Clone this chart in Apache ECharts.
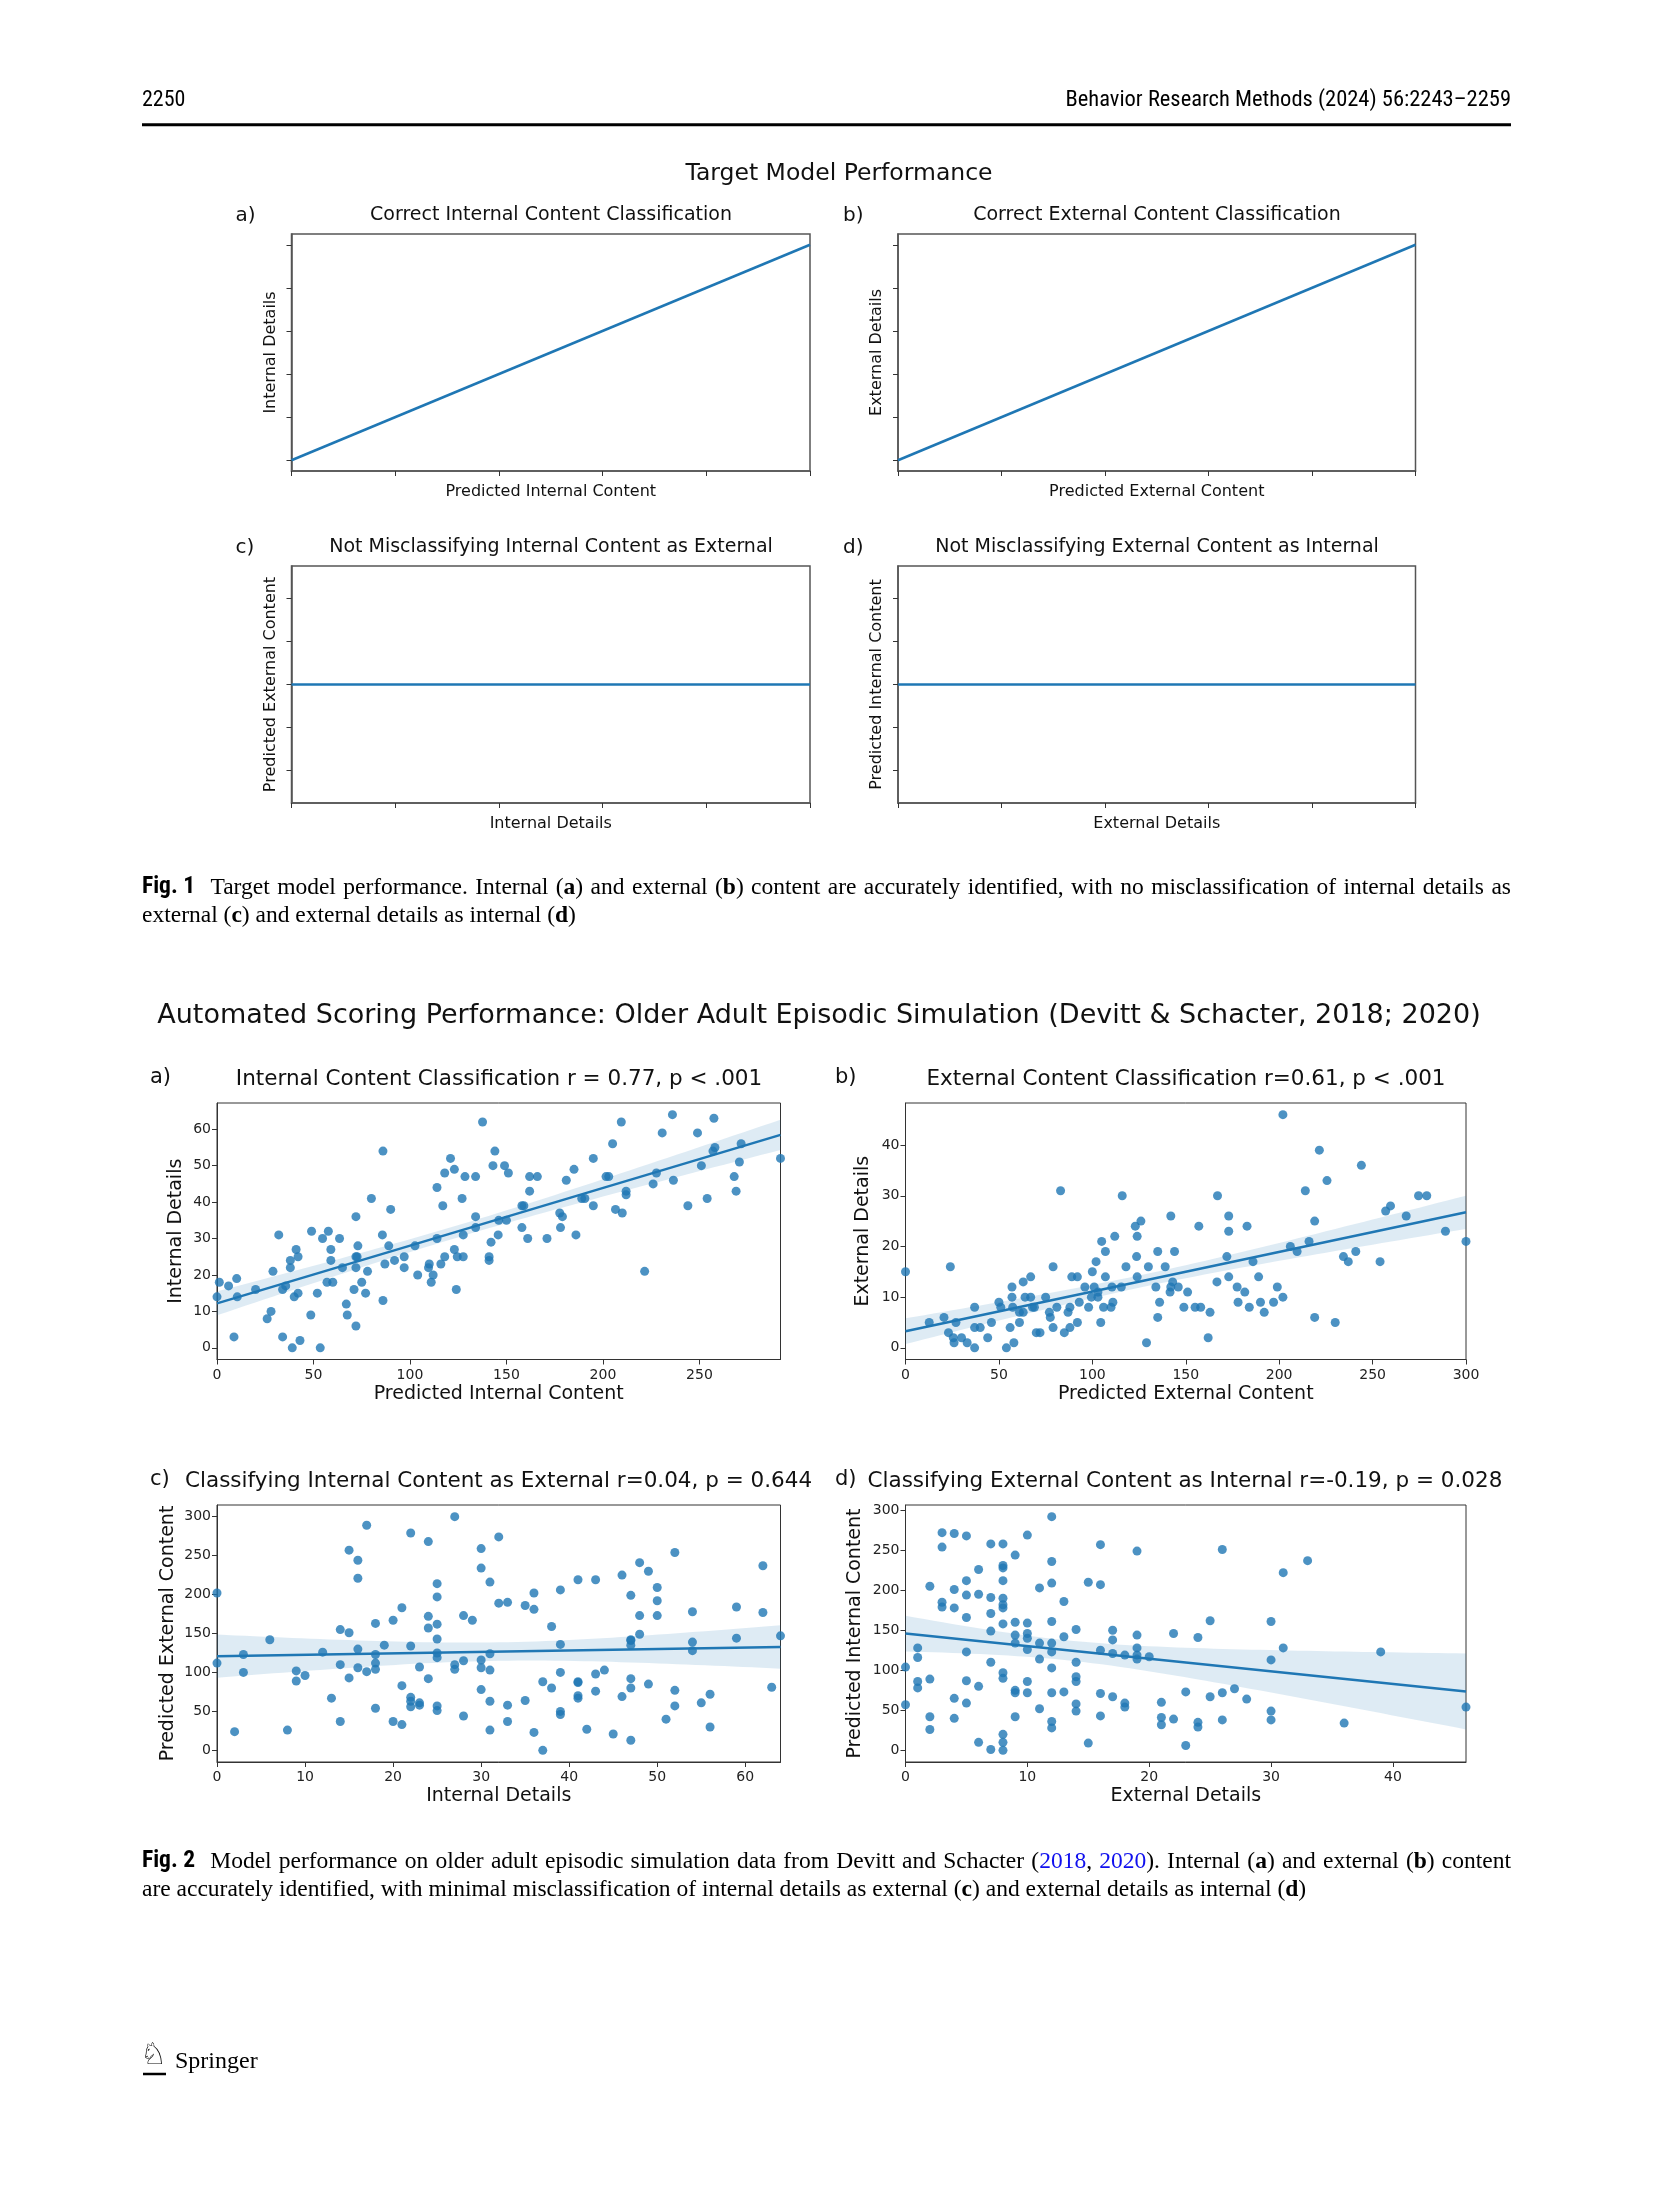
<!DOCTYPE html>
<html><head><meta charset="utf-8">
<script src="https://cdn.jsdelivr.net/npm/echarts@6/dist/echarts.min.js"></script>
<style>html,body{margin:0;padding:0;background:#fff}#c{width:1654px;height:2197px}</style>
</head><body><div id="c"></div>
<script>
// ---------------- DATA ----------------
// Fig 1 (schematic target model): x/y on unlabeled 0..5 scales
const fig1Ticks = [0, 1, 2, 3, 4, 5];
const fig1FlatTicks = [-0.04, -0.02, 0, 0.02, 0.04];
const fig1Diagonal = [[0, 0], [5, 5]];
const fig1Flat = [[0, 0], [5, 0]];

// Fig 2a: Predicted Internal Content (x) vs Internal Details (y)
const panelA = [[0,14],[1.2,18],[6,17],[8.8,3],[10.2,19],[10.5,14],[20,16],[26,8],[28,10],[29,21],[32,31],[34,16],[34,3],[35.6,17],[38,24],[38,22],[39,0],[40,14],[41,27],[42,25],[42,15],[43,2],[48.6,9],[49,32],[52,15],[53.5,0],[54.7,30],[57,18],[57.7,32],[59,27],[59,24],[60,18],[63.5,30],[65,22],[67,12],[67.5,9],[71,16],[72,36],[72,6],[72,22],[72,25],[73,28],[72.6,25],[75,18],[77,15],[78,21],[80,41],[85.7,31],[86,54],[86,13],[87,23],[89,28],[90,38],[92,24],[97,25],[97,22],[102.6,28],[104,20],[110,23],[109.6,22],[111,18],[112,20],[114,30],[114,44],[116,23],[117,39],[118,48],[118,25],[121,52],[123,49],[123,27],[124,16],[124.5,25],[127,41],[127.6,31],[127.6,25],[128.5,47],[134,47],[134,36],[134,33],[137.6,62],[141,24],[141,25],[142,29],[144,54],[143,50],[145.7,31],[146,35],[149,50],[150,35],[151,48],[158,33],[158,39],[159,39],[161,30],[162,47],[162,43],[166,47],[171,30],[177.6,37],[178,33],[179,36],[181,46],[185,49],[186,31],[189,41],[190.6,41],[195,39],[195,52],[201.6,47],[203,47],[205,56],[206.5,38],[209.5,62],[210,37],[212,43],[212,42],[221.6,21],[226,45],[227.7,48],[230.7,59],[236,64],[236.5,46],[244,39],[249,59],[251,50],[254,41],[257,54],[258,55],[257.5,63],[268,47],[269,43],[270.7,51],[271.6,56],[292,52]];
const panelAXTicks = [0, 50, 100, 150, 200, 250];
const panelAYTicks = [0, 10, 20, 30, 40, 50, 60];

// Fig 2b: Predicted External Content (x) vs External Details (y)
const panelB = [[0,15],[12.7,5],[20.6,6],[23,3],[24,16],[25.6,2],[26,1],[27,5],[30,2],[33,1],[37,8],[37,4],[37,0],[40,4],[44,2],[46,5],[50,9],[51,8],[54,0],[56,4],[57,12],[57,10],[57.4,8],[58,1],[61,5],[61,7],[63,13],[63,7],[64,10],[67,14],[67,10],[68,8],[69,8],[70,3],[72,3],[75,10],[77,7],[77.5,6],[79,16],[79,4],[81,8],[83,31],[85,3],[87,7],[88,8],[88,4],[89,14],[92,14],[92,5],[93,9],[96,12],[98,8],[99.5,10],[100,15],[101,12],[102,17],[103,10],[103,11],[104.5,5],[105,21],[106,8],[107,19],[107,14],[110,8],[110.5,12],[111,9],[112,22],[115.5,12],[116,30],[118,16],[123,24],[123.7,18],[124,22],[124,14],[126,25],[129,1],[130,16],[134,12],[135,19],[135,6],[136,9],[139,16],[141.6,11],[142,26],[142,12],[143,13],[144,19],[146,12],[149,8],[151,11],[157,24],[155,8],[158,8],[162,2],[163,7],[166.7,13],[167,30],[172,18],[173,26],[173,23],[173,14],[177.5,12],[178,9],[181.6,11],[182.8,24],[184,8],[186,17],[189,14],[190,9],[192,7],[197,9],[199,12],[202,10],[202,46],[206,20],[209.6,19],[214,31],[216,21],[219,25],[219,6],[221.5,39],[225.6,33],[230,5],[234.4,18],[237,17],[241,19],[244,36],[254,17],[257,27],[259.6,28],[268,26],[274.6,30],[279,30],[289,23],[300,21]];
const panelBXTicks = [0, 50, 100, 150, 200, 250, 300];
const panelBYTicks = [0, 10, 20, 30, 40];

// Fig 2c: Internal Details (x) vs Predicted External Content (y)
const panelC = [[0,202],[0,112],[2,24],[3,123],[3,100],[6,142],[8,26],[9,102],[9,89],[10,96],[12,126],[13,67],[14,155],[14,110],[14,37],[15,257],[15,151],[15,93],[16,244],[16,221],[16,130],[16,106],[17,289],[17,101],[18,163],[18,123],[18,112],[18,104],[18,54],[19,135],[20,167],[20,37],[21,183],[21,83],[21,33],[22,279],[22,134],[22,68],[22,63],[22,56],[23,107],[23,61],[23,58],[24,268],[24,172],[24,157],[24,92],[25,214],[25,197],[25,162],[25,143],[25,125],[25,119],[25,57],[25,51],[27,300],[27,110],[27,104],[28,173],[28,115],[28,44],[29,167],[30,259],[30,234],[30,116],[30,106],[30,78],[31,216],[31,124],[31,103],[31,63],[31,26],[32,274],[32,189],[33,190],[33,58],[33,37],[35,186],[35,64],[36,202],[36,181],[36,23],[37,88],[37,0],[38,159],[38,80],[39,206],[39,136],[39,100],[39,50],[39,46],[41,219],[41,88],[41,87],[41,70],[41,67],[42,27],[43,219],[43,98],[43,76],[44,103],[45,21],[46,225],[46,69],[47,199],[47,142],[47,141],[47,135],[47,92],[47,80],[47,13],[48,241],[48,173],[48,149],[49,230],[49,85],[50,209],[50,192],[50,173],[51,40],[52,254],[52,77],[52,57],[54,178],[54,139],[54,128],[55,61],[56,72],[56,30],[59,184],[59,144],[62,237],[62,177],[63,81],[64,147]];
const panelCXTicks = [0, 10, 20, 30, 40, 50, 60];
const panelCYTicks = [0, 50, 100, 150, 200, 250, 300];

// Fig 2d: External Details (x) vs Predicted Internal Content (y)
const panelD = [[0,104],[0,57],[1,128],[1,116],[1,86],[1,78],[2,205],[2,89],[2,42],[2,26],[3,272],[3,254],[3,185],[3,179],[4,271],[4,201],[4,178],[4,65],[4,40],[5,268],[5,212],[5,194],[5,166],[5,123],[5,87],[5,59],[6,226],[6,195],[6,80],[6,10],[7,258],[7,191],[7,171],[7,149],[7,110],[7,1],[8,258],[8,231],[8,228],[8,212],[8,190],[8,182],[8,178],[8,158],[8,97],[8,90],[8,20],[8,10],[8,0],[9,244],[9,160],[9,144],[9,134],[9,75],[9,72],[9,42],[10,269],[10,159],[10,146],[10,140],[10,126],[10,86],[10,72],[11,203],[11,134],[11,114],[11,52],[12,292],[12,236],[12,209],[12,161],[12,134],[12,123],[12,103],[12,72],[12,36],[12,28],[13,186],[13,142],[13,73],[14,151],[14,110],[14,92],[14,86],[14,58],[14,49],[15,210],[15,9],[16,257],[16,207],[16,125],[16,71],[16,43],[17,150],[17,138],[17,121],[17,67],[18,119],[18,59],[18,54],[19,249],[19,144],[19,128],[19,119],[19,114],[20,117],[21,60],[21,41],[21,32],[22,146],[22,39],[23,73],[23,6],[24,141],[24,35],[24,29],[25,162],[25,67],[26,251],[26,72],[26,38],[27,77],[28,64],[30,161],[30,113],[30,49],[30,38],[31,222],[31,128],[33,237],[36,34],[39,123],[46,54]];
const panelDXTicks = [0, 10, 20, 30, 40];
const panelDYTicks = [0, 50, 100, 150, 200, 250, 300];

// ---------------- HELPERS ----------------
const F = "'DejaVu Sans', sans-serif";
const BLUE = '#1f77b4';

function fit(pts) {
  const n = pts.length;
  let mx = 0, my = 0;
  pts.forEach(p => { mx += p[0]; my += p[1]; });
  mx /= n; my /= n;
  let sxx = 0, sxy = 0;
  pts.forEach(p => { sxx += (p[0]-mx)*(p[0]-mx); sxy += (p[0]-mx)*(p[1]-my); });
  const b = sxy / sxx, a = my - b * mx;
  let sse = 0;
  pts.forEach(p => { const r = p[1] - (a + b * p[0]); sse += r * r; });
  const s = Math.sqrt(sse / (n - 2));
  return { a, b, s, n, mx, sxx };
}
function regSeries(gi, pts) {
  const f = fit(pts);
  const xs = pts.map(p => p[0]);
  const x0 = Math.min(...xs), x1 = Math.max(...xs);
  const band = [];
  const steps = 60;
  for (let i = 0; i <= steps; i++) {
    const x = x0 + (x1 - x0) * i / steps;
    const yhat = f.a + f.b * x;
    const h = 1.98 * f.s * Math.sqrt(1 / f.n + (x - f.mx) * (x - f.mx) / f.sxx);
    band.push([x, yhat - h, yhat + h]);
  }
  return [
    { type: 'scatter', xAxisIndex: gi, yAxisIndex: gi, data: pts, symbolSize: 9,
      itemStyle: { color: BLUE, opacity: 0.8 }, z: 2, silent: true },
    { type: 'custom', xAxisIndex: gi, yAxisIndex: gi, data: band, z: 3, silent: true,
      encode: { x: 0, y: [1, 2] },
      renderItem: (params, api) => {
        if (params.dataIndex !== 0) return;
        const up = band.map(p => api.coord([p[0], p[2]]));
        const lo = band.map(p => api.coord([p[0], p[1]])).reverse();
        return { type: 'polygon', shape: { points: up.concat(lo) },
          style: { fill: 'rgba(31,119,180,0.15)' } };
      } },
    { type: 'line', xAxisIndex: gi, yAxisIndex: gi, showSymbol: false, z: 4, silent: true,
      data: [[x0, f.a + f.b * x0], [x1, f.a + f.b * x1]],
      lineStyle: { color: BLUE, width: 2.5 } }
  ];
}
function lineSeries(gi, data) {
  return { type: 'line', xAxisIndex: gi, yAxisIndex: gi, showSymbol: false, silent: true,
    data, lineStyle: { color: BLUE, width: 2.5 } };
}
function axis(gi, min, max, ticks, name, gap, nameSize, showLabels, spine, margin) {
  return {
    type: 'value', gridIndex: gi, min, max, name, nameLocation: 'middle', nameGap: gap,
    nameTextStyle: { fontFamily: F, fontSize: nameSize, color: '#111' },
    axisLine: { show: true, onZero: false, lineStyle: { color: spine.c, width: spine.w } },
    axisTick: { show: true, length: 5, customValues: ticks, lineStyle: { color: '#333', width: 1 } },
    axisLabel: { show: showLabels, customValues: ticks, fontFamily: F, fontSize: 14, color: '#222', margin: margin || 6 },
    splitLine: { show: false }
  };
}
function txt(x, y, text, size, o) {
  o = o || {};
  return { type: 'text', x, y, silent: true,
    style: { text, fontFamily: o.ff || F, fontSize: size, fontWeight: o.fw || 'normal',
      fill: o.c || '#111', align: o.al || 'left', verticalAlign: 'middle', rich: o.rich } };
}

// ---------------- LAYOUT ----------------
const s1 = { c: '#555', w: 1.5 }, s2 = { c: '#333', w: 1 };
const grids = [
  { left: 291.5, top: 234, width: 518.5, height: 237, b: '#555', bw: 1.5 },
  { left: 898, top: 234, width: 517.5, height: 237, b: '#555', bw: 1.5 },
  { left: 291.5, top: 566, width: 518.5, height: 237, b: '#555', bw: 1.5 },
  { left: 898, top: 566, width: 517.5, height: 237, b: '#555', bw: 1.5 },
  { left: 217, top: 1103, width: 563.5, height: 256.5, b: '#333', bw: 1 },
  { left: 905.5, top: 1103, width: 560.5, height: 256.5, b: '#333', bw: 1 },
  { left: 217, top: 1505, width: 563.5, height: 257, b: '#333', bw: 1 },
  { left: 905.5, top: 1505, width: 560.5, height: 257, b: '#333', bw: 1 }
].map(g => ({ left: g.left, top: g.top, width: g.width, height: g.height, show: true,
  borderColor: g.b, borderWidth: g.bw, backgroundColor: 'transparent' }));

const xAxes = [
  axis(0, 0, 5, fig1Ticks, 'Predicted Internal Content', 12.5, 16, false, s1),
  axis(1, 0, 5, fig1Ticks, 'Predicted External Content', 12.5, 16, false, s1),
  axis(2, 0, 5, fig1Ticks, 'Internal Details', 12.5, 16, false, s1),
  axis(3, 0, 5, fig1Ticks, 'External Details', 12.5, 16, false, s1),
  axis(4, 0, 292, panelAXTicks, 'Predicted Internal Content', 25, 19, true, s2, 8.5),
  axis(5, 0, 300, panelBXTicks, 'Predicted External Content', 25, 19, true, s2, 8.5),
  axis(6, 0, 64, panelCXTicks, 'Internal Details', 24.5, 19, true, s2, 8.5),
  axis(7, 0, 46, panelDXTicks, 'External Details', 24.5, 19, true, s2, 8.5)
];
const yAxes = [
  axis(0, -0.25, 5.25, fig1Ticks, 'Internal Details', 13, 16, false, s1),
  axis(1, -0.25, 5.25, fig1Ticks, 'External Details', 13, 16, false, s1),
  axis(2, -0.055, 0.055, fig1FlatTicks, 'Predicted External Content', 13, 16, false, s1),
  axis(3, -0.055, 0.055, fig1FlatTicks, 'Predicted Internal Content', 13, 16, false, s1),
  axis(4, -3.2, 67.2, panelAYTicks, 'Internal Details', 31, 19, true, s2),
  axis(5, -2.3, 48.3, panelBYTicks, 'External Details', 33, 19, true, s2),
  axis(6, -15, 315, panelCYTicks, 'Predicted External Content', 39.5, 19, true, s2),
  axis(7, -14.6, 306.6, panelDYTicks, 'Predicted Internal Content', 41, 19, true, s2)
];

const series = [
  lineSeries(0, fig1Diagonal), lineSeries(1, fig1Diagonal),
  lineSeries(2, fig1Flat), lineSeries(3, fig1Flat),
  ...regSeries(4, panelA), ...regSeries(5, panelB),
  ...regSeries(6, panelC), ...regSeries(7, panelD)
];

// ---------------- CAPTIONS (justified text) ----------------
const NARROW = "'Liberation Sans Narrow', 'Roboto Condensed', 'Liberation Sans', sans-serif";
const SERIF = "'Liberation Serif', 'DejaVu Serif', serif";
const CAP = 23.5;
const capRich = {
  fb: { fontFamily: NARROW, fontWeight: 'bold', fontSize: CAP, fill: '#000' },
  b: { fontFamily: SERIF, fontWeight: 'bold', fontSize: CAP, fill: '#000' },
  l: { fontFamily: SERIF, fontWeight: 'normal', fontSize: CAP, fill: '#1010ee' }
};
const capOpts = { ff: SERIF, c: '#000', rich: capRich };
const mctx = document.createElement('canvas').getContext('2d');
function richWidth(word) {
  const re = /\{(\w+)\|([^}]*)\}|([^{]+)/g;
  let m, w = 0;
  while ((m = re.exec(word))) {
    let st = { fontFamily: SERIF, fontWeight: 'normal', fontSize: CAP }, s = m[3];
    if (m[1]) { st = capRich[m[1]]; s = m[2]; }
    mctx.font = `${st.fontWeight} ${st.fontSize}px ${st.fontFamily}`;
    w += mctx.measureText(s).width;
  }
  return w;
}
function justified(x0, x1, y, line, firstExtra) {
  const words = line.split(' ');
  const ws = words.map(richWidth);
  const total = ws.reduce((a, b) => a + b, 0);
  const gap = (x1 - x0 - total - firstExtra) / (words.length - 1);
  const els = [];
  let x = x0;
  words.forEach((w, i) => {
    els.push(txt(x, y, w, CAP, capOpts));
    x += ws[i] + gap + (i === 0 ? firstExtra : 0);
  });
  return els;
}
const cap1a = '{fb|Fig.\u00a01} Target model performance. Internal ({b|a}) and external ({b|b}) content are accurately identified, with no misclassification of internal details as';
const cap1b = 'external ({b|c}) and external details as internal ({b|d})';
const cap2a = '{fb|Fig.\u00a02} Model performance on older adult episodic simulation data from Devitt and Schacter ({l|2018}, {l|2020}). Internal ({b|a}) and external ({b|b}) content';
const cap2b = 'are accurately identified, with minimal misclassification of internal details as external ({b|c}) and external details as internal ({b|d})';

const graphic = [
  txt(142, 100, '2250', 22, { ff: NARROW, c: '#000' }),
  txt(1511, 100, 'Behavior Research Methods (2024) 56:2243–2259', 22.5, { ff: NARROW, c: '#000', al: 'right' }),
  { type: 'line', silent: true, shape: { x1: 142, y1: 124.7, x2: 1511, y2: 124.7 }, style: { stroke: '#000', lineWidth: 3 } },

  txt(839, 173.5, 'Target Model Performance', 23.5, { al: 'center' }),
  txt(235.5, 215.5, 'a)', 20), txt(551, 215.5, 'Correct Internal Content Classification', 19, { al: 'center' }),
  txt(843, 215.5, 'b)', 20), txt(1157, 215.5, 'Correct External Content Classification', 19, { al: 'center' }),
  txt(235.5, 547.5, 'c)', 20), txt(551, 547.5, 'Not Misclassifying Internal Content as External', 19, { al: 'center' }),
  txt(843, 547.5, 'd)', 20), txt(1157, 547.5, 'Not Misclassifying External Content as Internal', 19, { al: 'center' }),

  ...justified(142, 1511, 887.5, cap1a, 8),
  txt(142, 915.5, cap1b, CAP, capOpts),

  txt(819, 1016, 'Automated Scoring Performance: Older Adult Episodic Simulation (Devitt & Schacter, 2018; 2020)', 27, { al: 'center' }),
  txt(150, 1077.5, 'a)', 21), txt(499, 1079.5, 'Internal Content Classification r = 0.77, p < .001', 21.5, { al: 'center' }),
  txt(835, 1077.5, 'b)', 21), txt(1186, 1079.5, 'External Content Classification r=0.61, p < .001', 21.5, { al: 'center' }),
  txt(150, 1480, 'c)', 21), txt(185, 1481.5, 'Classifying Internal Content as External r=0.04, p = 0.644', 21.5),
  txt(835, 1480, 'd)', 21), txt(867.5, 1481.5, 'Classifying External Content as Internal r=-0.19, p = 0.028', 21.5),

  ...justified(142, 1511, 1861.5, cap2a, 8),
  txt(142, 1889.5, cap2b, CAP, capOpts),

  txt(140, 2056, '\u2658', 30, { c: '#000' }),
  { type: 'line', silent: true, shape: { x1: 143, y1: 2074, x2: 166, y2: 2074 }, style: { stroke: '#000', lineWidth: 2.5 } },
  txt(175, 2062, 'Springer', 24, { ff: SERIF, c: '#000' })
];

const chart = echarts.init(document.getElementById('c'), null, { renderer: 'canvas', width: 1654, height: 2197 });
chart.setOption({
  animation: false,
  backgroundColor: '#fff',
  grid: grids, xAxis: xAxes, yAxis: yAxes, series, graphic
});
</script></body></html>
